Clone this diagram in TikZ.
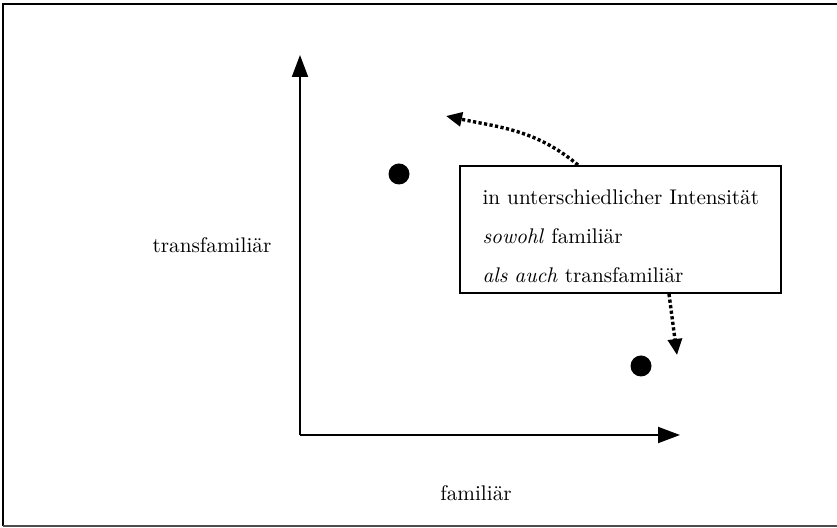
\documentclass[tikz,border=0pt]{standalone}
\usepackage{tikz}
\usetikzlibrary{arrows.meta,positioning}
\tikzset{
  axisline/.style={line width=1pt, -{Triangle[width=8pt,length=11pt]}},
  dotline/.style={line width=1.7pt, dash pattern=on 1.6pt off 1.2pt, -{Triangle[width=7pt,length=8pt]}},
  bigdot/.style={circle, fill=black, inner sep=0pt, minimum size=10.5pt},
}
\begin{document}
\begin{tikzpicture}[x=0.5pt, y=-0.5pt, font=\fontsize{10.6}{19.5}\selectfont]
			%%%%% START %%%%%
			\useasboundingbox (0,0) rectangle (837,528);
			
			% frame
			\draw[line width=1pt] (837,4) -- (3,4) -- (3,526);
			\draw[line width=1pt, color=black!70] (3,526) -- (837,526);
			
			% axes
			\coordinate (origin) at (300,435);
			\coordinate (ytop) at (300,55);
			\coordinate (xend) at (680,435);
			\draw[axisline] (origin) -- (ytop);
			\draw[axisline] (origin) -- (xend);
			\node (ylabel) at (212,245) {transfamiliär};
			\node (xlabel) at (476,493) {familiär};
			
			% points
			\node[bigdot] (dotA) at (399,174) {};
			\node[bigdot] (dotB) at (641,366) {};
			
			% box
			\node[draw, line width=1pt, anchor=north west, align=left, text width=138pt,
			      inner xsep=11.25pt, minimum height=63.5pt] (infobox) at (459,165)
			  {\rule{0pt}{14pt}\mbox{in unterschiedlicher Intensität}\\
			   \textit{sowohl} familiär\\
			   \textit{als auch} transfamiliär};
			
			% dotted arrows
			\coordinate (tipA) at (446,116);
			\coordinate (tipB) at (677,355);
			\draw[dotline] (infobox.north west) ++(119,0) coordinate (startA)
			  to[out=140, in=-12] (tipA);
			\draw[dotline] (infobox.south west) ++(210,0) coordinate (startB) -- (tipB);
			%%%%% END %%%%%
\end{tikzpicture}
\end{document}
